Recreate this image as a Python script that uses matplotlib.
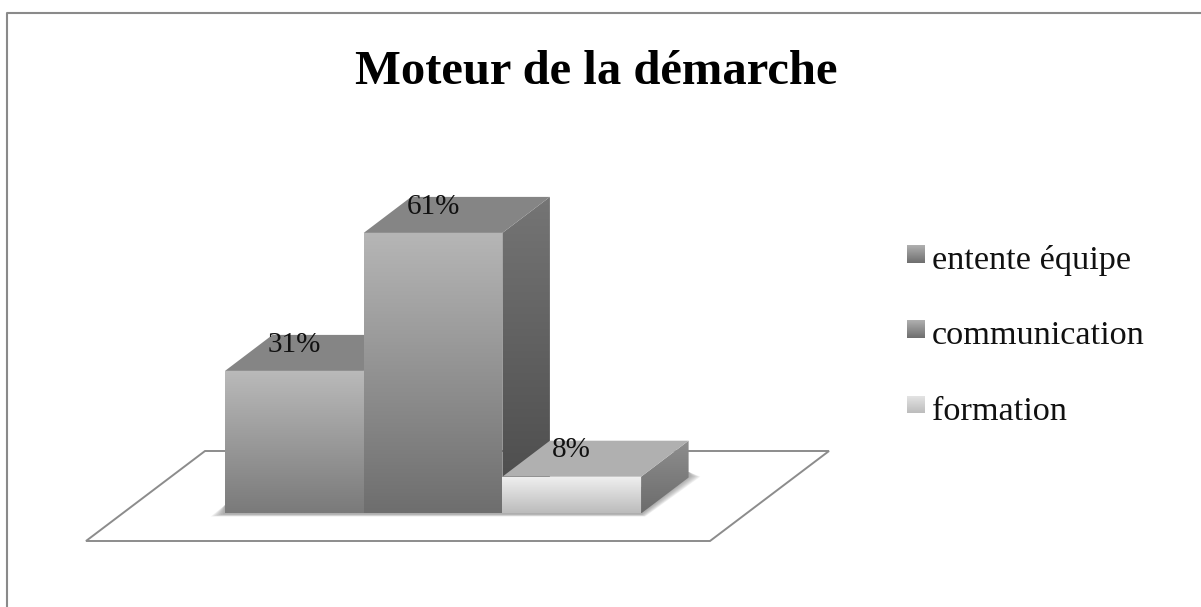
import numpy as np
import matplotlib
matplotlib.use("Agg")
import matplotlib.pyplot as plt
from matplotlib.patches import Polygon

categories = ["entente équipe", "communication", "formation"]
values = [31, 61, 8]
labels = ["31%", "61%", "8%"]
title = "Moteur de la démarche"

# front face, top face and side face greys per bar
front_cols = [("#bababa", "#7a7a7a"), ("#b6b6b6", "#6e6e6e"), ("#f0f0f0", "#bcbcbc")]
top_cols = ["#858585", "#858585", "#b0b0b0"]
side_cols = [("#757575", "#4a4a4a"), ("#757575", "#4a4a4a"), ("#8e8e8e", "#6c6c6c")]
legend_cols = [("#b0b0b0", "#6e6e6e"), ("#b0b0b0", "#6e6e6e"), ("#e6e6e6", "#bcbcbc")]

W, H = 1201, 607
plt.rcParams["font.family"] = ["Liberation Serif", "DejaVu Serif"]

fig = plt.figure(figsize=(W / 100, H / 100), dpi=100)
ax = fig.add_axes([0, 0, 1, 1])

# one bar = 138.7 px, one percent = 4.6 px, bars start at x=225, base at y=513.5
px_x, px_y = 138.7, 4.6
x0, base = 225, 513.5
ax.set_xlim(-x0 / px_x, (W - x0) / px_x)
ax.set_ylim(-(H - base) / px_y, base / px_y)
ax.axis("off")
dx, dy = 47.5 / px_x, 36 / px_y


def to_data(px, py):
    return (px - x0) / px_x, (base - py) / px_y


def grad_poly(pts, c_top, c_bot, zorder):
    poly = Polygon(pts, closed=True, fc="none", ec="none", zorder=zorder)
    ax.add_patch(poly)
    c1 = np.array(matplotlib.colors.to_rgb(c_top))
    c2 = np.array(matplotlib.colors.to_rgb(c_bot))
    t = np.linspace(0, 1, 128)[:, None]
    img = (c1 * (1 - t) + c2 * t)[:, None, :]
    xs, ys = zip(*pts)
    im = ax.imshow(img, extent=(min(xs), max(xs), min(ys), max(ys)), aspect="auto",
                   origin="upper", zorder=zorder, interpolation="bilinear")
    im.set_clip_path(poly)


# frame, only the top and left edges show
ax.plot(*zip(to_data(7, H + 2), to_data(7, 12.5), to_data(W + 2, 12.5)), color="#8a8a8a", lw=1.5, zorder=1)

# floor
floor = [to_data(86, 541), to_data(710, 541), to_data(829, 451), to_data(205, 451)]
ax.add_patch(Polygon(floor, closed=True, fc="white", ec="#8c8c8c", lw=1.4, zorder=1))

# soft shadow under the bars, a few stacked see-through polygons
for e in range(1, 8):
    pts = [to_data(225 - 2 * e, 514 + e * 0.35), to_data(641 + e * 0.6, 514 + e * 0.35),
           to_data(689 + e * 1.6, 476 + e * 0.1), to_data(689, 472), to_data(600, 500),
           to_data(225, 505)]
    ax.add_patch(Polygon(pts, closed=True, fc="#707070", ec="none", alpha=0.11, zorder=2))

for i, v in enumerate(values):
    z = 3 + i
    # side, top, front faces
    grad_poly([(i + 1, 0), (i + 1 + dx, dy), (i + 1 + dx, v + dy), (i + 1, v)],
              side_cols[i][0], side_cols[i][1], z)
    ax.add_patch(Polygon([(i, v), (i + 1, v), (i + 1 + dx, v + dy), (i + dx, v + dy)],
                         closed=True, fc=top_cols[i], ec="none", zorder=z))
    grad_poly([(i, 0), (i + 1, 0), (i + 1, v), (i, v)],
              front_cols[i][0], front_cols[i][1], z + 0.5)
    ax.text(i + 0.5, v + 5.7, labels[i], ha="center", va="center",
            fontsize=21, color="#111111", zorder=10)

# title
tx, ty = to_data(596, 72)
ax.text(tx, ty, title, ha="center", va="center", fontsize=35, fontweight="bold",
        color="black", zorder=10)

# legend
leg_y = [254, 329, 404.5]
for name, y, cols in zip(categories, leg_y, legend_cols):
    x_a, y_a = to_data(907, y + 9)
    x_b, y_b = to_data(925, y - 9)
    grad_poly([(x_a, y_a), (x_b, y_a), (x_b, y_b), (x_a, y_b)], cols[0], cols[1], 10)
    lx, ly = to_data(932, y + 7)
    ax.text(lx, ly, name, ha="left", va="center", fontsize=24.7, color="#111111", zorder=10)

ax.set_xlim(-x0 / px_x, (W - x0) / px_x)
ax.set_ylim(-(H - base) / px_y, base / px_y)
fig.savefig("out.png", dpi=100, facecolor="white")
